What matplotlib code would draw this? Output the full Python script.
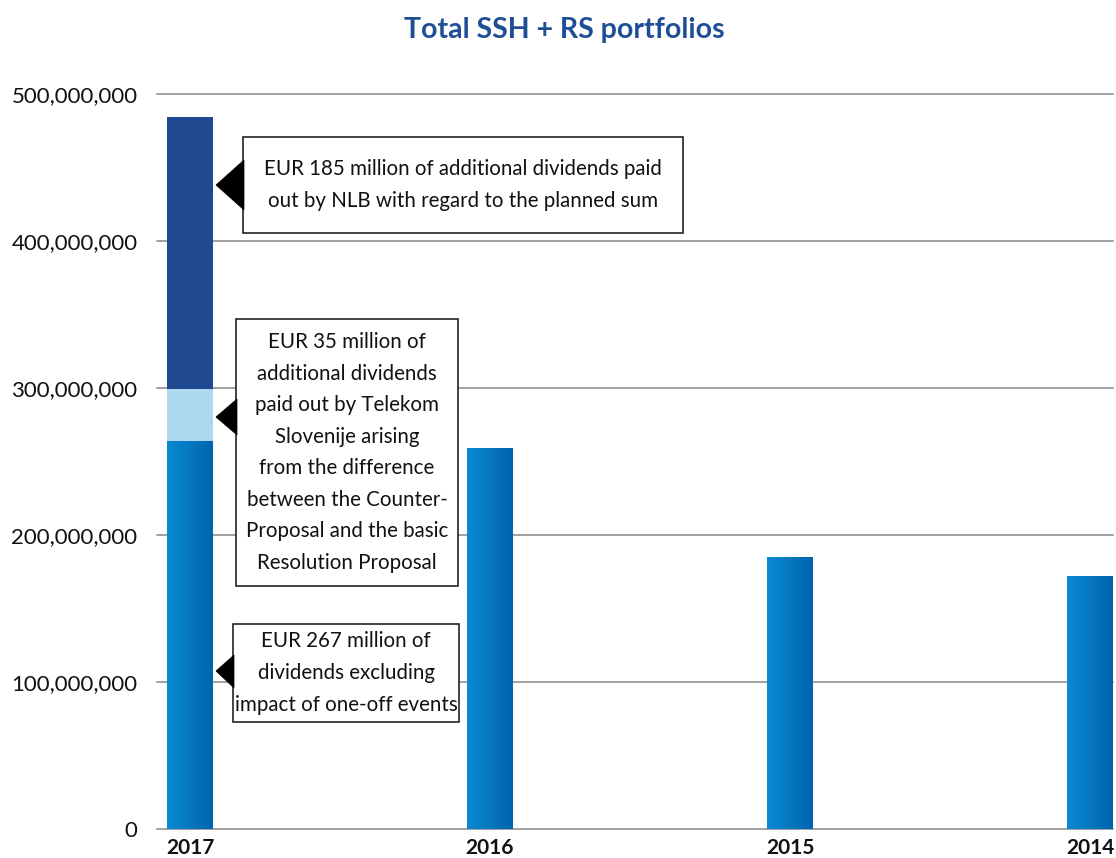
import matplotlib
matplotlib.use("Agg")
import matplotlib.pyplot as plt
import numpy as np
from matplotlib.patches import Rectangle, Polygon
from matplotlib.colors import LinearSegmentedColormap
from matplotlib.ticker import FuncFormatter

# ---- data ----
years = ["2017", "2016", "2015", "2014"]
base_dividends = [264.2e6, 259.5e6, 185.4e6, 172.4e6]
telekom_extra = [35.0e6, 0, 0, 0]
nlb_extra = [185.2e6, 0, 0, 0]
title = "Total SSH + RS portfolios"
yticks = [0, 100e6, 200e6, 300e6, 400e6, 500e6]
notes = [
    "EUR 185 million of additional dividends paid\nout by NLB with regard to the planned sum",
    "EUR 35 million of\nadditional dividends\npaid out by Telekom\nSlovenije arising\nfrom the difference\nbetween the Counter-\nProposal and the basic\nResolution Proposal",
    "EUR 267 million of\ndividends excluding\nimpact of one-off events",
]

FONT = "Lato"
plt.rcParams["font.family"] = [FONT, "DejaVu Sans"]

W, H = 1116, 858
fig = plt.figure(figsize=(W / 100, H / 100), dpi=100)
ax_l, ax_r, ax_b, ax_t = 157, 1113, 829.3, 94
ax = fig.add_axes([ax_l / W, 1 - ax_b / H, (ax_r - ax_l) / W, (ax_b - ax_t) / H])

x = np.arange(len(years))
bw = 46 / 300
grad_cmap = LinearSegmentedColormap.from_list("g", ["#0a8ad2", "#0064ae"])
grad = np.linspace(0, 1, 64).reshape(1, -1)

bars_base = ax.bar(x, base_dividends, width=bw, color="#0078c0", zorder=2)
bottom2 = np.array(base_dividends)
ax.bar(x, telekom_extra, width=bw, bottom=bottom2, color="#add8f0", zorder=2)
bottom3 = bottom2 + np.array(telekom_extra)
ax.bar(x, nlb_extra, width=bw, bottom=bottom3, color="#1f4a91", zorder=2)

for b in bars_base:
    x0, y0 = b.get_x(), b.get_y()
    im = ax.imshow(grad, extent=[x0, x0 + b.get_width(), y0, y0 + b.get_height()],
                   aspect="auto", cmap=grad_cmap, zorder=2.5, interpolation="bilinear")
    im.set_clip_path(b)

ax.set_xlim(-(190 - ax_l) / 300, 3 + (ax_r - 1090) / 300)
ax.set_ylim(0, 500e6)

for s in ax.spines.values():
    s.set_visible(False)

ax.set_yticks(yticks)
ax.yaxis.set_major_formatter(FuncFormatter(lambda v, p: f"{int(v):,}"))
ax.tick_params(axis="y", length=0, pad=14, labelsize=16, labelcolor="#111111")
ax.set_xticks(x)
ax.set_xticklabels(years, fontweight="bold", fontsize=15)
ax.tick_params(axis="x", length=0, pad=6.5, labelcolor="#111111")
ax.yaxis.grid(True, color="#888888", linewidth=1.1)
ax.set_axisbelow(True)
for gl in ax.get_ygridlines():
    gl.set_clip_on(False)

fig.text(564 / W, 1 - 30 / H, title, ha="center", va="center",
         fontsize=20.5, fontweight="bold", color="#1f4e96")

# callout boxes (data coords)
def px2d(px, py):
    return ((px - 190) / 300, (829.3 - py) / 147.06 * 1e8)

boxes = [
    # box (x0,x1,ytop,ybot), triangle (baseTop, baseBot, tip)
    ((243, 683, 137, 233), (160, 210, 185)),
    ((236, 458, 319, 586), (399, 435, 417)),
    ((233, 459, 624, 722), (655, 688, 671)),
]

for ((bx0, bx1, by0, by1), (t0, t1, tt)), txt in zip(boxes, notes):
    (dx0, dy0) = px2d(bx0, by1)
    (dx1, dy1) = px2d(bx1, by0)
    rect = Rectangle((dx0, dy0), dx1 - dx0, dy1 - dy0, facecolor="white",
                     edgecolor="#111111", linewidth=1.1, zorder=5)
    ax.add_patch(rect)
    tri = Polygon([px2d(bx0 + 1, t0), px2d(216, tt), px2d(bx0 + 1, t1)],
                  closed=True, facecolor="black", edgecolor="black", linewidth=0.5, zorder=6)
    ax.add_patch(tri)
    ax.text((dx0 + dx1) / 2, (dy0 + dy1) / 2, txt, ha="center", va="center",
            fontsize=14.8, color="#111111", linespacing=1.72, zorder=7)

fig.savefig("out.png", dpi=100)
